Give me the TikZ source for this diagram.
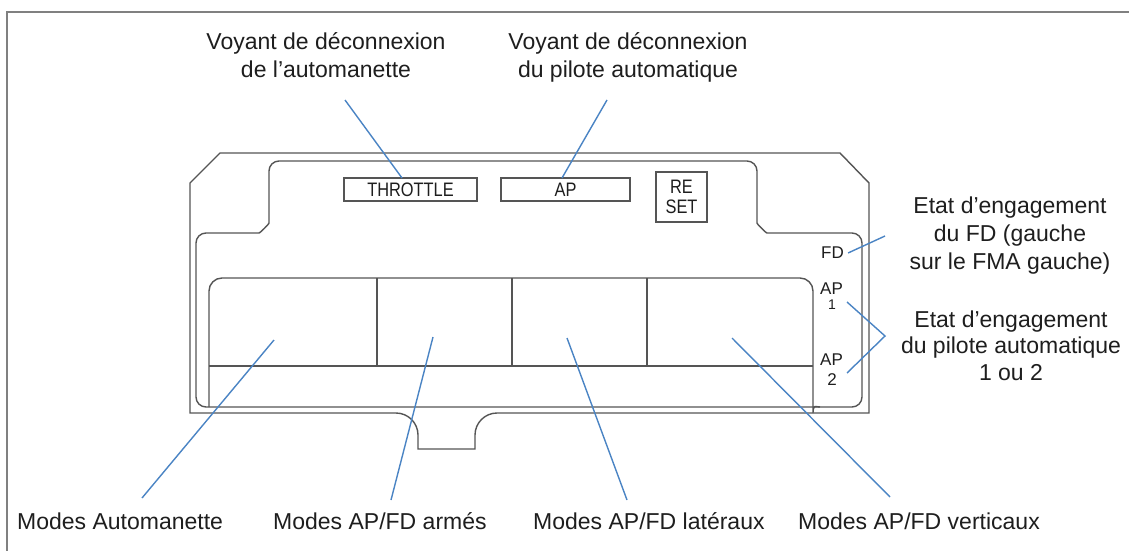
\documentclass[tikz,border=0pt]{standalone}
\usepackage{fontspec}
\setmainfont{Liberation Sans}
\newfontfamily\narrowsans[FakeStretch=0.84]{Liberation Sans}
\definecolor{devline}{HTML}{555555}
\definecolor{leader}{HTML}{4A84C4}
\definecolor{framegray}{HTML}{808080}
\definecolor{ink}{HTML}{1E1E1E}
\begin{document}
\begin{tikzpicture}[x=1pt,y=-1pt,
  device/.style={draw=devline,line width=1.4pt},
  leaderline/.style={draw=leader,line width=1.4pt},
  callout/.style={font=\fontsize{23}{28}\selectfont,text=ink,inner sep=0pt,align=center},
  lamp/.style={device,inner sep=0pt,font=\narrowsans\fontsize{19.5}{20}\selectfont,text=ink,align=center},
  status/.style={font=\fontsize{17}{18}\selectfont,text=ink,inner sep=0pt}
]
\useasboundingbox (0,0) rectangle (1129,551);
\fill[white] (0,0) rectangle (1129,551);
\draw[framegray,line width=2.2pt] (7,551) -- (7,12) -- (1129,12);

% housing
\draw[device] (220,153) -- (840,153) -- (869,183) -- (869,413) -- (497,413)
  .. controls (484.9,413) and (475,422.9) .. (475,435) -- (475,449) -- (418,449) -- (418,435)
  .. controls (418,422.9) and (408.1,413) .. (396,413) -- (190,413) -- (190,183) -- cycle;

% bezel
\draw[device,rounded corners=10pt] (500,161) -- (757,161) -- (757,213)
  .. controls (757,224) and (766,233) .. (777,233) -- (862,233) -- (862,407) -- (196,407)
  -- (196,233) -- (249,233) .. controls (260,233) and (269,224) .. (269,213) -- (269,161) -- cycle;

% mode panel
\draw[device,rounded corners=13pt] (209,407) -- (209,278) -- (813,278) -- (813,400)
  .. controls (813,404) and (816,407) .. (820,407);
\draw[device] (209,366) -- (813,366);
\draw[device] (377,278) -- (377,366);
\draw[device] (512,278) -- (512,366);
\draw[device] (647,278) -- (647,366);

% disconnect lamps and reset
\node[lamp,minimum width=133pt,minimum height=23pt] (throttle) at (410.5,189.5) {THROTTLE};
\node[lamp,minimum width=129pt,minimum height=23pt] (aplamp) at (565.5,189.5) {AP};
\node[lamp,minimum width=51pt,minimum height=50pt] (reset) at (681.5,197) {RE\\SET};

% engagement annunciators
\node[status] (fd) at (832.5,253) {FD};
\node[status] (ap1) at (831.5,288.5) {AP};
\node[status,font=\fontsize{14}{14}\selectfont] (ap1n) at (832,305) {1};
\node[status] (ap2) at (831.5,360) {AP};
\node[status] (ap2n) at (832,380) {2};

% callouts
\node[callout,anchor=north] (lblthr) at (326,32) {Voyant de déconnexion\\de l’automanette};
\node[callout,anchor=north] (lblap) at (628,32) {Voyant de déconnexion\\du pilote automatique};
\node[callout,anchor=north] (lblfd) at (1010,196.5) {Etat d’engagement\\du FD (gauche\\sur le FMA gauche)};
\node[callout,anchor=north,font=\fontsize{23}{26.5}\selectfont] (lblapst) at (1011,310.5) {Etat d’engagement\\du pilote automatique\\1 ou 2};
\node[callout,anchor=base west] (lblat) at (17,529) {Modes Automanette};
\node[callout,anchor=base west] (lblarm) at (273,529) {Modes AP/FD armés};
\node[callout,anchor=base west] (lbllat) at (533,529) {Modes AP/FD latéraux};
\node[callout,anchor=base west] (lblver) at (798,529) {Modes AP/FD verticaux};

% leader end points
\coordinate (thrtail) at (345,100);
\coordinate (thrpin) at (402,178);
\coordinate (aptail) at (607,100);
\coordinate (appin) at (562,178);
\coordinate (fdtail) at (885,236);
\coordinate (apfork) at (885,336);
\coordinate (ap1pin) at (847,302);
\coordinate (ap2pin) at (847,373);
\coordinate (atpin) at (274,340);
\coordinate (attail) at (142,498);
\coordinate (armpin) at (433,337);
\coordinate (armtail) at (391,500);
\coordinate (latpin) at (567,338);
\coordinate (lattail) at (627,500);
\coordinate (verpin) at (732,338);
\coordinate (vertail) at (890,497);

\draw[leaderline] (thrtail) -- (thrpin);
\draw[leaderline] (aptail) -- (appin);
\draw[leaderline] ([xshift=4pt]fd.east) -- (fdtail);
\draw[leaderline] (ap1pin) -- (apfork) -- (ap2pin);
\draw[leaderline] (atpin) -- (attail);
\draw[leaderline] (armpin) -- (armtail);
\draw[leaderline] (latpin) -- (lattail);
\draw[leaderline] (verpin) -- (vertail);
\end{tikzpicture}
\end{document}
